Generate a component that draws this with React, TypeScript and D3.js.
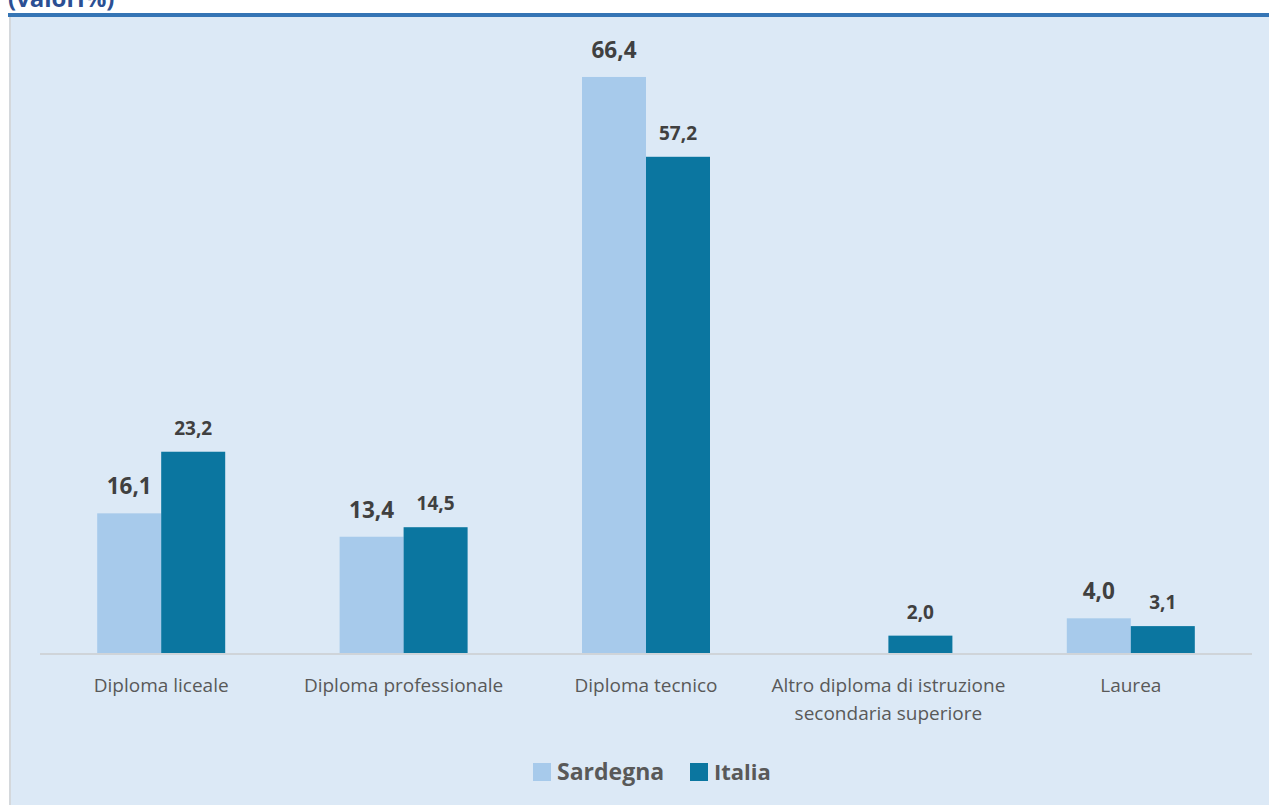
import React from "react";
import * as d3 from "d3";

const categories = [
  ["Diploma liceale"],
  ["Diploma professionale"],
  ["Diploma tecnico"],
  ["Altro diploma di istruzione", "secondaria superiore"],
  ["Laurea"],
];
const sardegna: (number | null)[] = [16.1, 13.4, 66.4, null, 4.0];
const italia: (number | null)[] = [23.2, 14.5, 57.2, 2.0, 3.1];
const seriesNames = ["Sardegna", "Italia"];
const colors = ["#a7caeb", "#0b76a0"];

const W = 1269, H = 805;

export default function App() {
  const x0 = d3.scaleBand<number>().domain(d3.range(categories.length)).range([40, 1252]).paddingInner(0).paddingOuter(0);
  const bw = 64;
  const y = d3.scaleLinear().domain([0, 70]).range([653, 653 - 70 * 8.675]);
  const fmt = (v: number) => v.toFixed(1).replace(".", ",");
  const font = "'Open Sans', 'Noto Sans', sans-serif";
  const series = [sardegna, italia];
  return (
    <svg width={W} height={H} style={{ position: "absolute", left: 0, top: 0 }} fontFamily={font}>
      <rect x={10} y={17} width={W - 10} height={H - 17} fill="#dce9f6" />
      <rect x={9} y={17} width={2} height={H - 17} fill="#d4d8dc" />
      <rect x={8} y={13} width={W - 8} height={4} fill="#3575b5" />
      <text x={8} y={7} fontSize={24} fontWeight={700} fill="#2b4f93">(valori%)</text>
      {series.map((s, si) =>
        s.map((v, i) => {
          if (v == null) return null;
          const cx = (x0(i) as number) + x0.bandwidth() / 2;
          const bx = si === 0 ? cx - bw : cx;
          return (
            <g key={`${si}-${i}`}>
              <rect x={bx} y={y(v)} width={bw} height={y(0) - y(v)} fill={colors[si]} />
              <text
                x={bx + bw / 2}
                y={y(v) - (si === 0 ? 19 : 17)}
                textAnchor="middle"
                fontSize={si === 0 ? 22.5 : 19}
                fontWeight={700}
                fill="#404040"
              >
                {fmt(v)}
              </text>
            </g>
          );
        })
      )}
      <line x1={40} x2={1252} y1={654} y2={654} stroke="#cfd4d9" strokeWidth={2} />
      {categories.map((lines, i) => {
        const cx = (x0(i) as number) + x0.bandwidth() / 2;
        return (
          <text key={i} textAnchor="middle" fontSize={19} fill="#595959">
            {lines.map((l, li) => (
              <tspan key={li} x={cx} y={692 + li * 28}>{l}</tspan>
            ))}
          </text>
        );
      })}
      <g>
        <rect x={533} y={763} width={18} height={18} fill={colors[0]} />
        <text x={557} y={780} fontSize={23} fontWeight={700} fill="#595959">{seriesNames[0]}</text>
        <rect x={690} y={763} width={18} height={18} fill={colors[1]} />
        <text x={714} y={780} fontSize={22} fontWeight={700} fill="#595959">{seriesNames[1]}</text>
      </g>
    </svg>
  );
}
